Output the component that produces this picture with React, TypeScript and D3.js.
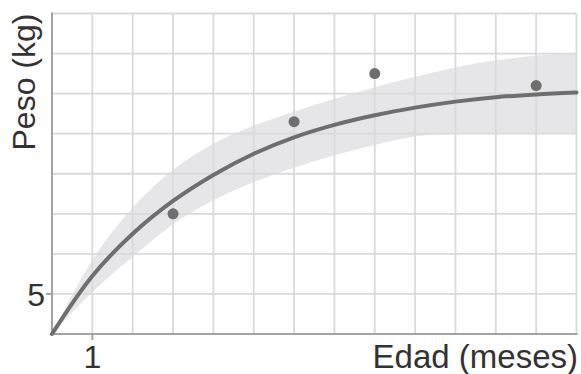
import React from "react";
import * as d3 from "d3";

const months = [0, 1, 2, 3, 4, 5, 6, 7, 8, 9, 10, 11, 12, 13];
const fitWeight = [4, 5.45, 6.5, 7.32, 7.97, 8.5, 8.91, 9.22, 9.46, 9.65, 9.8, 9.91, 9.98, 10.03];
const bandUpper = [4, 5.85, 7.15, 8.1, 8.75, 9.2, 9.55, 9.87, 10.16, 10.42, 10.65, 10.83, 10.95, 11.0];
const bandLower = [4, 5.05, 5.93, 6.74, 7.34, 7.79, 8.15, 8.46, 8.72, 8.93, 9.0, 9.0, 9.0, 9.0];

const obsMonths = [3, 6, 8, 12];
const obsWeight = [7.0, 9.3, 10.5, 10.2];

const xGrid = d3.range(0, 14);
const yGrid = d3.range(4, 13);
const xTickLabels = [1];
const yTickLabels = [5];

const W = 581;
const H = 374;

export default function App() {
  const x = d3.scaleLinear().domain([0, 13]).range([52, 576.5]);
  const y = d3.scaleLinear().domain([4, 12]).range([334, 13.5]);

  const band = d3
    .area<number>()
    .x((d) => x(months[d]))
    .y0((d) => y(bandLower[d]))
    .y1((d) => y(bandUpper[d]))
    .curve(d3.curveMonotoneX);
  const line = d3
    .line<number>()
    .x((d) => x(months[d]))
    .y((d) => y(fitWeight[d]))
    .curve(d3.curveCatmullRom.alpha(0.5));
  const idx = months.map((_, i) => i);

  const font = "'Liberation Sans', Arial, sans-serif";
  const gridColor = "#dadada";
  const axisColor = "#a3a3a3";
  const markColor = "#6e6e6e";

  return (
    <svg
      width={W}
      height={H}
      style={{ position: "absolute", left: 0, top: 0, background: "#fff" }}
    >
      <path d={band(idx) || ""} fill="#e6e6e8" />
      {xGrid.map((v) => (
        <line key={"gx" + v} x1={x(v)} x2={x(v)} y1={y(4)} y2={y(12)} stroke={gridColor} strokeWidth={1.8} />
      ))}
      {yGrid.map((v) => (
        <line key={"gy" + v} x1={x(0)} x2={x(13)} y1={y(v)} y2={y(v)} stroke={gridColor} strokeWidth={1.8} />
      ))}
      <line x1={x(0)} x2={x(0)} y1={y(4) + 1} y2={y(12) - 1} stroke={axisColor} strokeWidth={2} />
      <line x1={x(0) - 1} x2={x(13) + 1} y1={y(4)} y2={y(4)} stroke={axisColor} strokeWidth={2} />
      {xTickLabels.map((v) => (
        <g key={"xt" + v}>
          <line x1={x(v)} x2={x(v)} y1={y(4)} y2={y(4) + 6} stroke={axisColor} strokeWidth={2} />
          <text x={x(v)} y={368} textAnchor="middle" fontFamily={font} fontSize={32} fill="#333">
            {v}
          </text>
        </g>
      ))}
      {yTickLabels.map((v) => (
        <g key={"yt" + v}>
          <line x1={x(0) - 6} x2={x(0)} y1={y(v)} y2={y(v)} stroke={axisColor} strokeWidth={2} />
          <text x={45} y={y(v) + 12} textAnchor="end" fontFamily={font} fontSize={32} fill="#333">
            {v}
          </text>
        </g>
      ))}
      <path d={line(idx) || ""} fill="none" stroke={markColor} strokeWidth={4} strokeLinecap="round" />
      {obsMonths.map((m, i) => (
        <circle key={"p" + i} cx={x(m)} cy={y(obsWeight[i])} r={5.5} fill={markColor} />
      ))}
      <text x={578} y={368} textAnchor="end" fontFamily={font} fontSize={33} fill="#333">
        Edad (meses)
      </text>
      <text
        transform={`translate(35, 82) rotate(-90)`}
        textAnchor="middle"
        fontFamily={font}
        fontSize={32}
        fill="#333"
      >
        Peso (kg)
      </text>
    </svg>
  );
}
